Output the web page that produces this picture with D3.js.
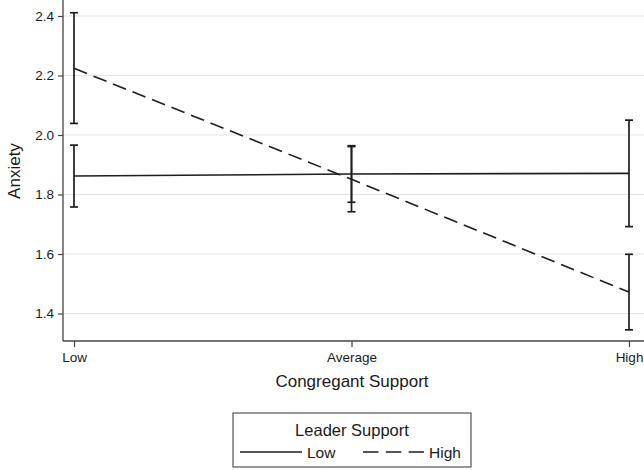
<!DOCTYPE html>
<html><head><meta charset="utf-8">
<script src="https://cdn.jsdelivr.net/npm/d3@7/dist/d3.min.js"></script>
<style>body{margin:0;background:#fff}svg{display:block}</style>
</head><body>
<script>
const categories = ["Low", "Average", "High"];
const seriesNames = ["Low", "High"];
const lowMean  = [1.862, 1.869, 1.871];
const lowLo    = [1.758, 1.774, 1.692];
const lowHi    = [1.966, 1.964, 2.050];
const highMean = [2.224, 1.851, 1.472];
const highLo   = [2.039, 1.742, 1.345];
const highHi   = [2.411, 1.961, 1.599];
const yTicks   = [1.4, 1.6, 1.8, 2.0, 2.2, 2.4];

const W = 644, H = 470;
const font = "'Liberation Sans', Arial, Helvetica, sans-serif";
const svg = d3.select("body").append("svg").attr("width", W).attr("height", H)
  .style("font-family", font);

const axisX = 63, axisBottom = 341;
const x = d3.scalePoint().domain(categories).range([74, 629]);
const y = d3.scaleLinear().domain([1.4, 2.4]).range([313.5, 16]);

// gridlines
svg.append("g").selectAll("line").data(yTicks).join("line")
  .attr("x1", axisX).attr("x2", W).attr("y1", d => y(d)).attr("y2", d => y(d))
  .attr("stroke", "#e4e4e4").attr("stroke-width", 1);

// y axis
const yAxis = svg.append("g").attr("transform", `translate(${axisX},0)`)
  .call(d3.axisLeft(y).tickValues(yTicks).tickFormat(d3.format(".1f")).tickSize(5).tickPadding(4));
yAxis.select(".domain").remove();
yAxis.selectAll(".tick line").attr("stroke", "#444").attr("stroke-width", 1.2);
yAxis.selectAll(".tick text").attr("font-size", 13.5).attr("fill", "#1a1a1a").attr("font-family", font);
svg.append("line").attr("x1", axisX).attr("x2", axisX).attr("y1", 0).attr("y2", axisBottom)
  .attr("stroke", "#444").attr("stroke-width", 1.3);

// x axis
const xAxis = svg.append("g").attr("transform", `translate(0,${axisBottom})`)
  .call(d3.axisBottom(x).tickSize(6).tickPadding(5));
xAxis.select(".domain").remove();
xAxis.selectAll(".tick line").attr("stroke", "#444").attr("stroke-width", 1.2);
xAxis.selectAll(".tick text").attr("font-size", 13.5).attr("fill", "#1a1a1a").attr("font-family", font);
svg.append("line").attr("x1", axisX).attr("x2", W).attr("y1", axisBottom).attr("y2", axisBottom)
  .attr("stroke", "#444").attr("stroke-width", 1.3);

// axis titles
svg.append("text").attr("transform", `translate(14,171) rotate(-90)`)
  .attr("text-anchor", "middle").attr("dominant-baseline", "central")
  .attr("font-size", 17).attr("fill", "#1a1a1a").text("Anxiety");
svg.append("text").attr("x", 352).attr("y", 381)
  .attr("text-anchor", "middle").attr("dominant-baseline", "central")
  .attr("font-size", 17).attr("fill", "#1a1a1a").text("Congregant Support");

// series
const series = [
  {name: seriesNames[0], mean: lowMean, lo: lowLo, hi: lowHi, dash: null},
  {name: seriesNames[1], mean: highMean, lo: highLo, hi: highHi, dash: "14,7"}
];
const line = d3.line().x((d, i) => x(categories[i])).y(d => y(d));
const capW = 4;
series.forEach(s => {
  const g = svg.append("g");
  categories.forEach((c, i) => {
    g.append("line").attr("x1", x(c)).attr("x2", x(c)).attr("y1", y(s.lo[i])).attr("y2", y(s.hi[i]))
      .attr("stroke", "#1e1e1e").attr("stroke-width", 1.7);
    [s.lo[i], s.hi[i]].forEach(v => {
      g.append("line").attr("x1", x(c) - capW).attr("x2", x(c) + capW).attr("y1", y(v)).attr("y2", y(v))
        .attr("stroke", "#1e1e1e").attr("stroke-width", 1.7);
    });
  });
  g.append("path").attr("d", line(s.mean)).attr("fill", "none")
    .attr("stroke", "#1e1e1e").attr("stroke-width", 1.6)
    .attr("stroke-dasharray", s.dash);
});

// legend
const lg = svg.append("g");
lg.append("rect").attr("x", 233).attr("y", 413).attr("width", 238).attr("height", 54)
  .attr("fill", "#fff").attr("stroke", "#333").attr("stroke-width", 1);
lg.append("text").attr("x", 352).attr("y", 430).attr("text-anchor", "middle")
  .attr("dominant-baseline", "central").attr("font-size", 16.5).attr("fill", "#1a1a1a").text("Leader Support");
const items = [
  {x1: 240, x2: 302, tx: 307, dash: null, label: seriesNames[0]},
  {x1: 363, x2: 424, tx: 429, dash: "15.5,7.3", label: seriesNames[1]}
];
items.forEach(it => {
  lg.append("line").attr("x1", it.x1).attr("x2", it.x2).attr("y1", 452).attr("y2", 452)
    .attr("stroke", "#1e1e1e").attr("stroke-width", 1.6).attr("stroke-dasharray", it.dash);
  lg.append("text").attr("x", it.tx).attr("y", 452).attr("dominant-baseline", "central")
    .attr("font-size", 15.5).attr("fill", "#1a1a1a").text(it.label);
});
</script>
</body></html>
